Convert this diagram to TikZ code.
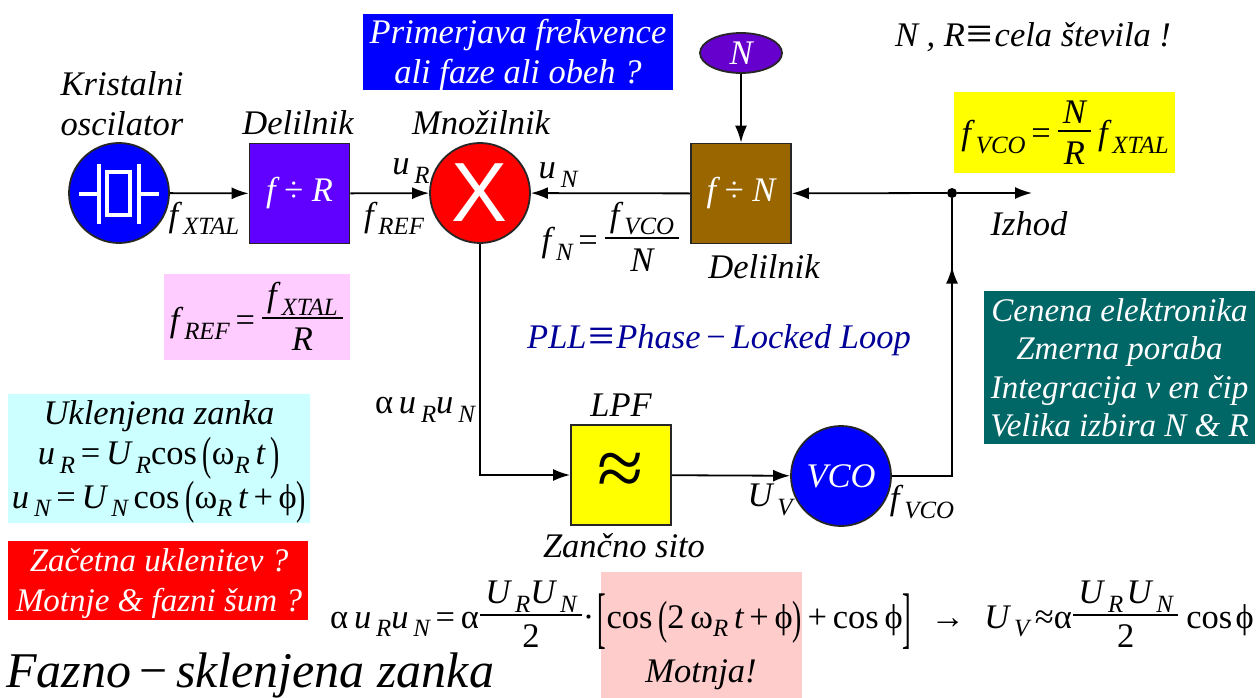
\documentclass[tikz,border=0pt]{standalone}
\usepackage{amsmath}
\usepackage{fontspec}
\setmainfont{Liberation Serif}
\newfontfamily\xfont{Liberation Sans}
\usetikzlibrary{arrows.meta,calc,shapes.geometric}

\definecolor{cmpblue}{RGB}{0,0,255}
\definecolor{divviolet}{RGB}{96,0,255}
\definecolor{divbrown}{RGB}{153,102,0}
\definecolor{ovalviolet}{RGB}{102,0,204}
\definecolor{teal}{RGB}{0,102,102}
\definecolor{pinkbg}{RGB}{255,204,255}
\definecolor{cyanbg}{RGB}{204,255,255}
\definecolor{motbg}{RGB}{255,204,204}
\definecolor{pllnavy}{RGB}{0,0,153}
\definecolor{sunyellow}{RGB}{255,255,0}
\definecolor{alarmred}{RGB}{255,0,0}

% Text helpers
\newcommand{\ssc}[1]{\raisebox{-.24em}{\fontsize{.72em}{1em}\selectfont\textit{#1}}}
\newcommand{\vsub}[2]{\textit{#1}\kern.14em\ssc{#2}}
\newcommand{\frc}[2]{\raisebox{.22em}{\ensuremath{\genfrac{}{}{1.8pt}{1}{\hbox{\kern.15em\rule[-.14em]{0pt}{1em}#1\kern.15em}}{\hbox{\rule{0pt}{.88em}#2}}}}}
\newcommand{\tpar}[1]{\raisebox{-.14em}{\scalebox{.8}[1.35]{\upshape #1}}}
\newcommand{\tbrk}[1]{\raisebox{-.36em}{\scalebox{.75}[1.95]{\upshape #1}}}
\newcommand{\up}[1]{{\upshape #1}}
\newcommand{\eqv}{\up{\kern.05em\raisebox{-.1em}{\scalebox{1.35}{≡}}\kern.05em}}
\newcommand{\phis}{\up{ϕ}}

\tikzset{
  lbl/.style={font=\fontsize{34.5}{40}\selectfont\itshape, inner sep=0pt, align=center},
  panel/.style={lbl, anchor=north west},
  block/.style={draw=black!85, line width=1.8pt, minimum width=100pt, minimum height=100pt, inner sep=0pt},
  round/.style={circle, draw=black!85, line width=1.8pt, minimum size=100pt, inner sep=0pt},
  link/.style={line width=1.8pt},
  flow/.style={link, -{Latex[length=17pt,width=12pt]}},
  quartz/.style={white, line width=3.2pt}
}

\begin{document}
\begin{tikzpicture}[x=1pt, y=-1pt]
  \useasboundingbox (0,0) rectangle (1259,698);

  % Coloured panels
  \node[panel, fill=cmpblue, minimum width=310pt, minimum height=76pt] (compare) at (363,14) {};
  \node[lbl, text=white] (comparetxt) at (518,55) {Primerjava frekvence\\ali faze ali obeh ?};
  \node[panel, fill=sunyellow, minimum width=221pt, minimum height=81pt] (gainbg) at (954,92) {};
  \node[panel, fill=teal, minimum width=271pt, minimum height=153pt] (notebg) at (984,291) {};
  \node[lbl, text=white, font=\fontsize{33}{38.5}\selectfont\itshape] (notes) at (1119.5,368)
    {Cenena elektronika\\Zmerna poraba\\Integracija v en čip\\Velika izbira \textit{N} \& \textit{R}};
  \node[panel, fill=pinkbg, minimum width=186pt, minimum height=86pt] (refbg) at (164,274) {};
  \node[panel, fill=cyanbg, minimum width=302pt, minimum height=129pt] (lockbg) at (8,394) {};
  \node[panel, fill=alarmred, minimum width=300pt, minimum height=79pt] (startbg) at (8,541) {};
  \node[panel, fill=motbg, minimum width=201pt, minimum height=126pt] (motbg) at (601,572) {};
  \node[lbl, text=white, font=\fontsize{33}{40}\selectfont\itshape] (start) at (159,584) {Začetna uklenitev ?\\Motnje \& fazni šum ?};
  \node[lbl] (lock) at (159,462) {%
    Uklenjena zanka\\
    \vsub{u}{R}\up{\,=\,}\vsub{U}{R}\up{cos}\,\tpar{(}\up{ω}\ssc{R}\,\textit{t}\,\tpar{)}\\
    \vsub{u}{N}\up{\,=\,}\vsub{U}{N}\,\up{cos}\,\tpar{(}\up{ω}\ssc{R}\,\textit{t}\up{\,+\,}\phis\tpar{)}};

  % Blocks
  \node[round, fill=cmpblue] (xtal) at (119,193) {};
  \node[block, fill=divviolet, text=white, lbl] (divr) at (299.5,193.5) {\textit{f} \up{÷} \textit{R}};
  \node[round, fill=alarmred, text=white] (mix) at (480,193) {\xfont\fontsize{84}{84}\selectfont X};
  \node[block, fill=divbrown, text=white, lbl] (divn) at (741,193.5) {\textit{f} \up{÷} \textit{N}};
  \node[ellipse, draw=black!85, line width=1.8pt, fill=ovalviolet, text=white, lbl, minimum width=82pt, minimum height=40pt] (nval) at (741,53) {\textit{N}};
  \node[block, fill=sunyellow, lbl] (lpf) at (621,475) {\raisebox{-.09em}{\fontsize{84}{84}\selectfont\up{≈}}};
  \node[round, fill=cmpblue, text=white, lbl] (vco) at (841,476) {VCO};
  \node[circle, fill=black, minimum size=10pt, inner sep=0pt] (tap) at (952,193) {};
  \coordinate (out) at (1032,193);
  \coordinate (lpfin) at (mix.south |- lpf.west);
  \coordinate (vcoout) at (tap |- vco.east);

  % Quartz symbol
  \draw[quartz] (79,194) -- (98,194) (99,164) -- (99,224);
  \draw[quartz] (107,172) rectangle (130,215);
  \draw[quartz] (139,164) -- (139,224) (139,194) -- (159,194);

  % Signal path
  \draw[flow] (xtal) -- (divr);
  \draw[flow] (divr) -- (mix);
  \draw[flow] (divn) -- (mix);
  \draw[flow] (tap) -- (divn);
  \draw[flow] (tap) -- (out);
  \draw[flow] (nval) -- (divn);
  \draw[flow] (mix) -- (lpfin) -- (lpf);
  \draw[flow] (lpf) -- (vco);
  \draw[link] (vco) -- (vcoout) -- (tap);
  \draw[flow] (vcoout) -- ($(vcoout)!.74!(tap)$);

  % Block captions
  \node[lbl] (xtalcap) at (122,104) {Kristalni\\oscilator};
  \node[lbl] (divrcap) at (298,123) {Delilnik};
  \node[lbl] (mixcap) at (481,123) {Množilnik};
  \node[lbl] (divncap) at (764,267) {Delilnik};
  \node[lbl] (lpfcap) at (621,405) {LPF};
  \node[lbl] (loopcap) at (624,546) {Zančno sito};
  \node[lbl] (outcap) at (1029,224) {Izhod};

  % Signal labels
  \node[lbl] (fxtal) at (204,218) {\vsub{f}{XTAL}};
  \node[lbl] (fref) at (394,218) {\vsub{f}{REF}};
  \node[lbl] (ur) at (411,171) {\vsub{u}{R}};
  \node[lbl] (un) at (558,175) {\vsub{u}{N}};
  \node[lbl] (fn) at (611,234) {\vsub{f}{N}\up{\,=\,}\frc{\vsub{f}{VCO}}{\textit{N}}};
  \node[lbl] (mixout) at (425,410) {\up{α}\,\vsub{u}{R}\vsub{u}{N}};
  \node[lbl] (uv) at (770,500) {\vsub{U}{V}};
  \node[lbl] (fvco) at (922,502) {\vsub{f}{VCO}};

  % Formulas
  \node[lbl] (gain) at (1065,129) {\vsub{f}{VCO}\up{\,=\,}\frc{\textit{N}}{\textit{R}}\,\vsub{f}{XTAL}};
  \node[lbl] (freffrm) at (257,314) {\vsub{f}{REF}\up{\,=\,}\frc{\vsub{f}{XTAL}}{\textit{R}}};
  \node[lbl] (intnote) at (1033,37) {\textit{N} , \textit{R}\eqv cela števila !};
  \node[lbl, text=pllnavy] (pll) at (719,340) {PLL\eqv Phase\up{\,−\,}Locked Loop};
  \node[lbl, anchor=west] (mainfrm) at (330,612) {%
    \up{α}\,\vsub{u}{R}\vsub{u}{N}\up{\,=\,α}\frc{\vsub{U}{R}\vsub{U}{N}}{\up{2}}\up{·}\kern.1em\tbrk{[}\up{cos}\,\tpar{(}\up{2\,ω}\ssc{R}\,\textit{t}\up{\,+\,}\phis\tpar{)}\up{\,+\,cos\,}\phis\tbrk{]}%
    \up{\;\;→\;\;}\vsub{U}{V}\up{\,≈α}\frc{\vsub{U}{R}\kern.1em\vsub{U}{N}}{\up{2}}\kern.2em\up{cos}\kern.1em\phis};
  \node[lbl] (motnja) at (701,675) {Motnja!};
  \node[lbl, anchor=west, font=\fontsize{50}{54}\selectfont\itshape] (title) at (6,675) {Fazno\up{\,−\,}sklenjena zanka};
\end{tikzpicture}
\end{document}
